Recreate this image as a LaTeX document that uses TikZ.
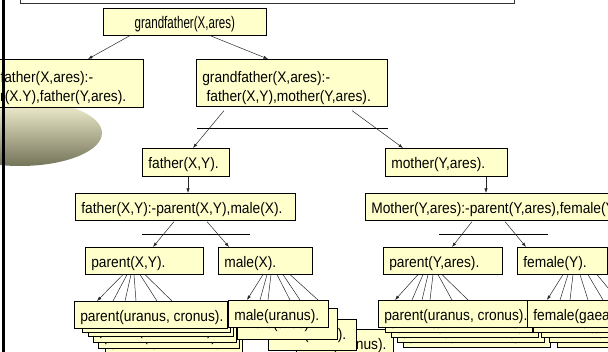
\documentclass[tikz,border=0pt]{standalone}
\usepackage{graphicx}
\usepackage{fontspec}
\setmainfont{Liberation Sans}[FakeStretch=0.9]
\usetikzlibrary{calc,arrows.meta,shadows}
\definecolor{cardfill}{HTML}{FFFFCC}
\definecolor{ellTop}{RGB}{247,245,212}
\definecolor{ellBot}{RGB}{116,116,90}
% one line of card text, left-aligned in a box of the given width
\newcommand{\cardline}[2]{\makebox[#1][l]{#2}}
% two lines of card text
\newcommand{\cardpair}[3]{\parbox[t]{#1}{\raggedright #2\\#3}}
\begin{document}
\begin{tikzpicture}[x=1pt,y=-1pt,
  card/.style={draw=black, line width=0.6pt, fill=cardfill, anchor=north west,
    inner xsep=6pt, inner ysep=0pt,
    font=\fontsize{15.3}{19}\selectfont,
    text height=20pt, text depth=7pt,
    general shadow={fill=black!50, shadow xshift=1pt, shadow yshift=-1pt}},
  pair/.style={text height=23pt, text depth=24pt},
  link/.style={draw=black!85, line width=0.5pt},
  tip/.style={-{Latex[length=4.5pt,width=3.2pt]}},
  bar/.style={draw=black, line width=0.9pt}]
\useasboundingbox (0,0) rectangle (608,352);
\clip (0,0) rectangle (608,352);

% frame of the query panel above
\draw[black!80, line width=0.8pt] (20,-10) rectangle (514,3);

% shaded oval behind the first clause
\shade[top color=ellTop, bottom color=ellBot] (20,133) ellipse [x radius=82, y radius=33];

% goal and clauses
\node[card] (gf) at (103,8)
  {\makebox[151pt][c]{\scalebox{0.84}[1.1]{grandfather(X,ares)}}};
\node[card, pair, text depth=25pt] (lcl) at (-41,59)
  {\cardpair{172pt}{grandfather(X,ares):-}{\hspace*{0.28em}father(X.Y),father(Y,ares).}};
\node[card, pair] (mcl) at (196,59)
  {\cardpair{179pt}{grandfather(X,ares):-}{\hspace*{0.28em}father(X,Y),mother(Y,ares).}};

\node[card, text depth=8pt] (fxy) at (142,148) {\cardline{75pt}{father(X,Y).}};
\node[card, text depth=8pt] (myr) at (385,148) {\cardline{110pt}{mother(Y,ares).}};

\node[card] (fcl) at (75,193) {\cardline{208pt}{father(X,Y):-parent(X,Y),male(X).}};
\node[card] (mcl2) at (365,193) {\cardline{263pt}{Mother(Y,ares):-parent(Y,ares),female(Y).}};

\node[card] (pxy) at (85,247) {\cardline{106pt}{parent(X,Y).}};
\node[card] (mx) at (218,247) {\cardline{82pt}{male(X).}};
\node[card] (pyr) at (383,247) {\cardline{107pt}{parent(Y,ares).}};
\node[card] (fy) at (517,247) {\cardline{78pt}{female(Y).}};

% connectors of the tree
\draw[link,tip] ($(gf.south west)+(27,0)$) -- ($(lcl.north west)+(129,0)$);
\draw[link,tip] ($(gf.south west)+(107,0)$) -- ($(mcl.north west)+(72,0)$);
\draw[bar] ($(mcl.south west)+(1,22)$) -- ($(mcl.south east)+(0,22)$);
\draw[link,tip] ($(mcl.south west)+(28,4)$) -- ($(fxy.north west)+(51,0)$);
\draw[link,tip] ($(mcl.south west)+(156,4)$) -- ($(myr.north west)+(18,0)$);
\draw[link,tip] ($(fxy.south west)+(46,0)$) -- ($(fcl.north west)+(113,0)$);
\draw[link,tip] ($(myr.south west)+(101,0)$) -- ($(mcl2.north west)+(121,0)$);
\draw[bar] ($(fcl.south west)+(67,14)$) -- ($(fcl.south west)+(175,14)$);
\draw[link,tip] ($(fcl.south west)+(99,1)$) -- ($(pxy.north west)+(68,0)$);
\draw[link,tip] ($(fcl.south west)+(132,1)$) -- ($(mx.north west)+(11,0)$);
\draw[bar] ($(mcl2.south west)+(74,14)$) -- ($(mcl2.south west)+(183,14)$);
\draw[link,tip] ($(mcl2.south west)+(107,1)$) -- ($(pyr.north west)+(69,0)$);
\draw[link,tip] ($(mcl2.south west)+(140,1)$) -- ($(fy.north west)+(9,0)$);

% anchor points of the fact stacks
\coordinate (pxs) at (74,301);
\coordinate (mxs) at (228,300);
\coordinate (pys) at (378,300);
\coordinate (fys) at (527,300);

% fans from each goal to its facts
\foreach \o/\e [count=\i] in {38/23,42/39,46/51,49/62,55/83,60/98}
  \draw[link, /utils/exec={\ifnum\i=1 \tikzset{tip}\fi}] ($(pxy.south west)+(\o,0)$) -- ($(pxs)+(\e,0)$);
\foreach \o/\e [count=\i] in {45/19,49/32,53/40,59/62,65/72,72/90}
  \draw[link, /utils/exec={\ifnum\i=1 \tikzset{tip}\fi}] ($(mx.south west)+(\o,0)$) -- ($(mxs)+(\e,0)$);
\foreach \o/\e [count=\i] in {35/17,40/34,45/44,50/52,55/74,59/90}
  \draw[link, /utils/exec={\ifnum\i=1 \tikzset{tip}\fi}] ($(pyr.south west)+(\o,0)$) -- ($(pys)+(\e,0)$);
\foreach \o/\e [count=\i] in {46/20,51/33,56/43,63/61,71/76,80/91}
  \draw[link, /utils/exec={\ifnum\i=1 \tikzset{tip}\fi}] ($(fy.south west)+(\o,0)$) -- ($(fys)+(\e,0)$);

% stacked facts, back cards first
\begin{scope}[every node/.append style={text depth=9pt}]
\node[card] (px5) at (105,326) {\cardline{125pt}{parent(hera, ares).}};
\node[card] (px4) at (98,321) {\cardline{129pt}{parent(zeus, ares).}};
\node[card] (px3) at (93,315) {\cardline{131pt}{parent(rhea, zeus).}};
\node[card] (px2) at (88,309) {\cardline{133pt}{parent(cronus, zeus).}};
\node[card] (px1) at (82,305) {\cardline{136pt}{parent(gaea, cronus).}};
\node[card] (px0) at (pxs) {\cardline{141pt}{parent(uranus, cronus).}};
\end{scope}

\node[card] (mx3) at (296,329) {\cardline{85pt}{male(cronus).}};
\node[card, text depth=11pt] (mx2) at (268,319) {\cardline{76pt}{male(zeus).}};
\node[card, text depth=11pt] (mx1) at (237,308) {\cardline{88pt}{male(ares).}};
\node[card] (mx0) at (mxs) {\cardline{88pt}{male(uranus).}};

\node[card] (py4) at (403,320) {\cardline{135pt}{parent(hera, ares).}};
\node[card] (py3) at (397,315) {\cardline{135pt}{parent(rhea, zeus).}};
\node[card] (py2) at (391,310) {\cardline{135pt}{parent(cronus, zeus).}};
\node[card] (py1) at (385,305) {\cardline{135pt}{parent(gaea, cronus).}};
\node[card] (py0) at (pys) {\cardline{137pt}{parent(uranus, cronus).}};

\node[card] (fy4) at (557,320) {\cardline{88pt}{female(hera).}};
\node[card] (fy3) at (549,315) {\cardline{88pt}{female(rhea).}};
\node[card] (fy2) at (541,310) {\cardline{88pt}{female(gaea).}};
\node[card] (fy1) at (533,305) {\cardline{88pt}{female(hera).}};
\node[card] (fy0) at (fys) {\cardline{88pt}{female(gaea).}};

% margin rule on the left
\draw[line width=2.5pt] (3.5,-2) -- (3.5,354);
\end{tikzpicture}
\end{document}
